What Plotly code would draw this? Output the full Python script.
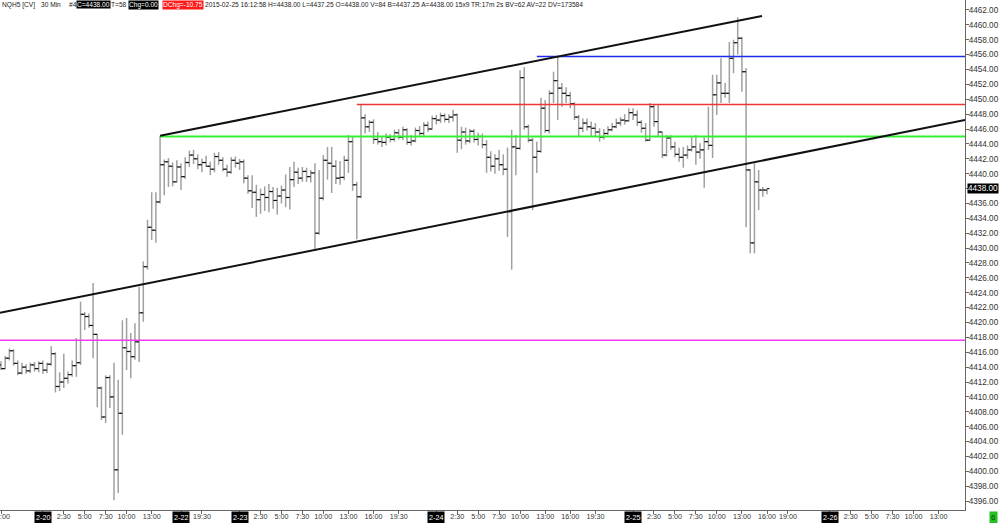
import plotly.graph_objects as go

# ---------------- data (30 min bars, NQH5) ----------------
opens = [4414.3, 4413.8, 4415.2, 4416.2, 4414.5, 4413.2, 4414.0, 4413.5, 4414.3, 4413.8,
         4414.5, 4413.6, 4414.4, 4415.8, 4411.4, 4412.0, 4412.5, 4413.0, 4414.2, 4414.6,
         4421.1, 4420.8, 4419.6, 4418.4, 4411.2, 4407.3, 4412.6, 4410.0, 4400.2, 4407.8,
         4416.6, 4416.1, 4415.4, 4417.4, 4421.3, 4427.5, 4432.8, 4432.4, 4436.2, 4441.2,
         4441.6, 4441.0, 4438.9, 4440.9, 4439.6, 4441.5, 4442.5, 4442.0, 4441.2, 4441.5,
         4441.0, 4440.6, 4442.3, 4441.8, 4440.6, 4440.2, 4441.8, 4441.4, 4441.6, 4439.4,
         4437.7, 4437.5, 4436.5, 4437.2, 4436.8, 4437.6, 4436.4, 4437.0, 4437.8, 4436.8,
         4439.2, 4440.2, 4439.4, 4440.3, 4439.6, 4440.1, 4432.0, 4436.7, 4441.8, 4441.4,
         4441.0, 4439.4, 4439.5, 4441.8, 4444.3, 4438.5, 4436.9, 4447.5, 4446.3, 4446.9,
         4444.6, 4444.3, 4444.2, 4444.9, 4444.6, 4445.5, 4444.9, 4445.9, 4444.2, 4444.4,
         4445.8, 4445.4, 4446.5, 4446.0, 4447.4, 4447.2, 4447.8, 4447.3, 4447.6, 4447.9,
         4444.5, 4445.6, 4444.4, 4445.7, 4444.6, 4445.0, 4443.9, 4442.2, 4441.0, 4442.0,
         4441.2, 4440.6, 4434.9, 4443.6, 4443.4, 4452.9, 4446.3, 4444.5, 4442.2, 4443.0,
         4448.8, 4445.8, 4450.8, 4452.5, 4451.5, 4450.8, 4450.5, 4449.4, 4447.6, 4446.1,
         4446.8, 4446.3, 4446.1, 4445.6, 4444.9, 4445.4, 4445.9, 4446.3, 4446.8, 4447.2,
         4447.1, 4448.2, 4447.9, 4446.9, 4446.1, 4444.5, 4449.0, 4447.0, 4445.6, 4442.5,
         4444.8, 4443.6, 4442.6, 4442.2, 4442.5, 4443.2, 4443.6, 4442.9, 4443.2, 4444.3,
         4443.8, 4450.6, 4452.2, 4450.8, 4450.8, 4455.5, 4457.6, 4458.2, 4453.7, 4440.5,
         4430.7, 4438.9, 4437.8, 4437.8]
highs = [4414.8, 4415.5, 4416.5, 4416.4, 4414.9, 4414.6, 4414.4, 4414.6, 4414.7, 4414.8,
         4414.9, 4414.6, 4416.8, 4416.0, 4413.3, 4415.8, 4413.4, 4414.9, 4417.9, 4422.8,
         4421.4, 4421.2, 4425.3, 4418.5, 4411.4, 4412.9, 4412.9, 4414.6, 4412.3, 4420.3,
         4420.6, 4418.6, 4419.9, 4424.8, 4428.2, 4433.8, 4437.5, 4437.5, 4445.1, 4441.9,
         4442.1, 4441.5, 4441.8, 4441.4, 4442.2, 4443.1, 4443.2, 4442.6, 4442.0, 4442.4,
         4441.6, 4442.8, 4442.9, 4442.2, 4441.2, 4442.2, 4442.3, 4442.0, 4441.9, 4439.8,
         4439.8, 4438.5, 4438.0, 4438.3, 4438.6, 4438.2, 4438.1, 4438.4, 4439.9, 4440.9,
         4441.6, 4440.8, 4440.9, 4440.8, 4440.5, 4441.4, 4440.5, 4442.5, 4443.6, 4443.6,
         4441.8, 4441.7, 4442.4, 4445.2, 4444.9, 4438.9, 4449.3, 4448.0, 4447.2, 4447.3,
         4445.6, 4445.0, 4445.4, 4445.3, 4445.9, 4446.0, 4446.3, 4446.1, 4445.2, 4446.2,
         4446.4, 4446.9, 4447.0, 4447.8, 4447.9, 4448.2, 4448.1, 4448.0, 4448.6, 4448.1,
         4446.3, 4446.2, 4446.0, 4446.0, 4445.5, 4445.4, 4444.5, 4443.0, 4442.6, 4443.2,
         4442.6, 4443.5, 4445.9, 4445.2, 4453.9, 4454.3, 4446.6, 4444.8, 4444.3, 4450.2,
         4449.9, 4451.2, 4453.7, 4455.8, 4452.2, 4451.6, 4451.0, 4449.6, 4447.9, 4447.4,
         4447.4, 4447.0, 4446.8, 4446.1, 4446.0, 4446.4, 4446.8, 4447.4, 4447.6, 4448.0,
         4448.8, 4448.8, 4448.5, 4447.2, 4446.8, 4449.5, 4449.3, 4449.3, 4445.6, 4445.2,
         4445.2, 4444.3, 4443.5, 4443.6, 4443.8, 4444.9, 4445.2, 4444.1, 4444.9, 4449.0,
         4453.3, 4453.3, 4455.5, 4452.2, 4457.7, 4458.0, 4461.0, 4458.4, 4454.2, 4440.6,
         4441.4, 4440.5, 4438.2, 4438.0]
lows = [4413.6, 4413.7, 4414.9, 4414.2, 4412.9, 4413.0, 4413.1, 4413.2, 4413.4, 4413.3,
        4413.1, 4413.2, 4414.2, 4410.6, 4410.8, 4411.2, 4411.8, 4412.7, 4412.7, 4414.3,
        4419.0, 4419.3, 4415.2, 4408.6, 4406.9, 4406.5, 4408.5, 4396.1, 4397.1, 4404.9,
        4413.6, 4412.5, 4415.0, 4414.7, 4420.1, 4427.1, 4431.1, 4430.7, 4436.0, 4437.1,
        4438.2, 4438.3, 4438.8, 4437.8, 4439.3, 4440.9, 4441.3, 4440.6, 4440.2, 4440.9,
        4439.8, 4440.2, 4441.2, 4440.3, 4439.6, 4440.0, 4440.8, 4440.5, 4438.7, 4437.3,
        4435.4, 4434.2, 4434.6, 4435.0, 4434.8, 4435.3, 4434.5, 4436.0, 4435.5, 4435.2,
        4438.2, 4438.6, 4438.9, 4438.9, 4438.8, 4429.7, 4431.8, 4436.4, 4439.2, 4437.4,
        4438.6, 4438.5, 4439.1, 4440.1, 4437.7, 4431.2, 4436.7, 4445.4, 4445.6, 4444.0,
        4443.9, 4443.6, 4443.8, 4444.2, 4444.3, 4444.6, 4444.5, 4443.9, 4443.8, 4444.2,
        4445.0, 4445.1, 4445.6, 4445.9, 4446.6, 4446.8, 4446.9, 4446.8, 4447.0, 4442.8,
        4443.3, 4443.9, 4444.1, 4444.2, 4443.8, 4443.4, 4440.1, 4440.3, 4440.0, 4440.4,
        4439.8, 4431.5, 4427.1, 4439.8, 4443.2, 4445.9, 4444.2, 4435.1, 4440.1, 4442.8,
        4445.5, 4445.4, 4449.5, 4447.2, 4449.0, 4449.5, 4448.8, 4447.2, 4444.9, 4445.6,
        4445.8, 4445.0, 4444.9, 4444.3, 4444.6, 4445.2, 4445.7, 4446.1, 4446.4, 4446.6,
        4447.0, 4447.2, 4446.4, 4445.5, 4444.3, 4444.4, 4446.3, 4445.0, 4442.1, 4442.3,
        4443.2, 4442.2, 4441.6, 4440.8, 4442.0, 4443.0, 4441.2, 4442.0, 4438.1, 4443.2,
        4442.1, 4447.9, 4449.5, 4450.2, 4449.5, 4453.5, 4456.0, 4451.0, 4432.8, 4429.3,
        4429.3, 4435.1, 4436.9, 4437.25]
closes = [4413.8, 4415.2, 4416.2, 4414.5, 4413.2, 4414.0, 4413.5, 4414.3, 4413.8, 4414.5,
          4413.6, 4414.4, 4415.8, 4411.4, 4412.0, 4412.5, 4413.0, 4414.2, 4414.6, 4421.1,
          4420.8, 4419.6, 4418.4, 4411.2, 4407.3, 4412.6, 4410.0, 4400.2, 4407.8, 4416.6,
          4416.1, 4415.4, 4417.4, 4421.3, 4427.5, 4432.8, 4432.4, 4436.2, 4441.2, 4441.6,
          4441.0, 4438.9, 4440.9, 4439.6, 4441.5, 4442.5, 4442.0, 4441.2, 4441.5, 4441.0,
          4440.6, 4442.3, 4441.8, 4440.6, 4440.2, 4441.8, 4441.4, 4441.6, 4439.4, 4437.7,
          4437.5, 4436.5, 4437.2, 4436.8, 4437.6, 4436.4, 4437.0, 4437.8, 4436.8, 4439.2,
          4440.2, 4439.4, 4440.3, 4439.6, 4440.1, 4432.0, 4436.7, 4441.8, 4441.4, 4441.0,
          4439.4, 4439.5, 4441.8, 4444.3, 4438.5, 4436.9, 4447.5, 4446.3, 4446.9, 4444.6,
          4444.3, 4444.2, 4444.9, 4444.6, 4445.5, 4444.9, 4445.9, 4444.2, 4444.4, 4445.8,
          4445.4, 4446.5, 4446.0, 4447.4, 4447.2, 4447.8, 4447.3, 4447.6, 4447.9, 4444.5,
          4445.6, 4444.4, 4445.7, 4444.6, 4445.0, 4443.9, 4442.2, 4441.0, 4442.0, 4441.2,
          4440.6, 4434.9, 4443.6, 4443.4, 4452.9, 4446.3, 4444.5, 4442.2, 4443.0, 4448.8,
          4445.8, 4450.8, 4452.5, 4451.5, 4450.8, 4450.5, 4449.4, 4447.6, 4446.1, 4446.8,
          4446.3, 4446.1, 4445.6, 4444.9, 4445.4, 4445.9, 4446.3, 4446.8, 4447.2, 4447.1,
          4448.2, 4447.9, 4446.9, 4446.1, 4444.5, 4449.0, 4447.0, 4445.6, 4442.5, 4444.8,
          4443.6, 4442.6, 4442.2, 4442.5, 4443.2, 4443.6, 4442.9, 4443.2, 4444.3, 4443.8,
          4450.6, 4452.2, 4450.8, 4450.8, 4455.5, 4457.6, 4458.2, 4453.7, 4440.5, 4430.7,
          4438.9, 4437.8, 4437.8, 4438.0]

# time-axis labels (bar index of each label)
time_tick_pos = [0, 15, 20, 25, 30, 36, 48, 62, 67, 72, 77, 83, 89, 95,
                 109, 114, 119, 124, 130, 136, 142, 156, 161, 166, 171, 177, 183, 188,
                 203, 208, 213, 218, 224]
time_tick_text = ["19:00", "2:30", "5:00", "7:30", "10:00", "13:00", "19:30",
                  "2:30", "5:00", "7:30", "10:00", "13:00", "16:00", "19:30",
                  "2:30", "5:00", "7:30", "10:00", "13:00", "16:00", "19:30",
                  "2:30", "5:00", "7:30", "10:00", "13:00", "16:00", "19:00",
                  "2:30", "5:00", "7:30", "10:00", "13:00"]
date_pos = [10, 43, 57, 104, 151, 198]
date_text = ["2-20", "2-22", "2-23", "2-24", "2-25", "2-26"]

# drawn horizontal levels: price, starting bar index, colour, width
level_prices = [4455.75, 4449.3, 4445.0, 4417.6]
level_start = [128, 85, 38, -0.24]
level_colors = ["#1f2cf0", "#f03535", "#33f033", "#f03cf0"]
level_widths = [1.5, 1.5, 2, 1.5]

# channel trend lines: bar index / price of both ends
upper_channel_x = [38, 181.8]
upper_channel_y = [4445.1, 4461.2]
lower_channel_x = [-0.24, 230.3]
lower_channel_y = [4421.3, 4447.2]

last_price = 4438.0

# ---------------- figure ----------------
n = len(opens)
idx = list(range(n))
x_min, x_max = -0.24, 230.3

fig = go.Figure()
fig.add_trace(go.Ohlc(
    x=idx, open=opens, high=highs, low=lows, close=closes,
    increasing=dict(line=dict(color="#a0a0a0", width=1.5)),
    decreasing=dict(line=dict(color="#a0a0a0", width=1.5)),
    tickwidth=0.0, hoverinfo="skip", showlegend=False))
fig.add_trace(go.Scatter(
    x=[i - 0.3 for i in idx], y=opens, mode="markers",
    marker=dict(symbol="line-ew", size=1.6, line=dict(color="#111", width=1.2)),
    hoverinfo="skip", showlegend=False))
fig.add_trace(go.Scatter(
    x=[i + 0.3 for i in idx], y=closes, mode="markers",
    marker=dict(symbol="line-ew", size=1.6, line=dict(color="#111", width=1.2)),
    hoverinfo="skip", showlegend=False))

for p, s, c, w in zip(level_prices, level_start, level_colors, level_widths):
    fig.add_trace(go.Scatter(x=[s, x_max], y=[p, p], mode="lines",
                             line=dict(color=c, width=w), hoverinfo="skip", showlegend=False))

for xs, ys in [(upper_channel_x, upper_channel_y), (lower_channel_x, lower_channel_y)]:
    fig.add_trace(go.Scatter(x=xs, y=ys, mode="lines", line=dict(color="#111", width=2),
                             hoverinfo="skip", showlegend=False))

tick_vals = time_tick_pos + date_pos
tick_text = time_tick_text + [""] * len(date_pos)

fig.update_layout(
    width=1000, height=523,
    margin=dict(l=0, r=35, t=0, b=13),
    paper_bgcolor="white", plot_bgcolor="white",
    showlegend=False,
    font=dict(family="Liberation Sans, Arial, sans-serif", size=8, color="#333"),
    xaxis=dict(range=[x_min, x_max], tickvals=tick_vals, ticktext=tick_text,
               automargin=False, ticklabeloverflow="allow",
               showgrid=False, zeroline=False, showline=True, linecolor="#666", linewidth=1,
               ticks="outside", ticklen=3, tickcolor="#666", tickangle=0,
               ticklabelstandoff=-4,
               rangeslider=dict(visible=False), tickfont=dict(size=7.2, color="#333")),
    yaxis=dict(range=[4394.8, 4463.34], side="right", dtick=2, tick0=4396, tickformat=".2f",
               automargin=False,
               showgrid=False, zeroline=False, showline=True, linecolor="#666", linewidth=1,
               ticks="outside", ticklen=3, tickcolor="#666", ticklabelstandoff=-2,
               tickfont=dict(size=8.2, color="#333")),
)

ann = []
for p, t in zip(date_pos, date_text):
    ann.append(dict(x=p, y=0, xref="x", yref="paper", text=t, showarrow=False,
                    xanchor="center", yanchor="top", yshift=-1,
                    bgcolor="black", font=dict(color="white", size=7.2), borderpad=1))

# last price marker on the price scale
ann.append(dict(x=1, y=last_price, xref="paper", yref="y", text=f"{last_price:.2f}",
                showarrow=False, xanchor="left", xshift=2, bgcolor="black",
                font=dict(color="white", size=8.2), borderpad=0))

# header line
W = 965.0
header = [
    ("NQH5 [CV]", 1, None), ("30 Min", 40, None), ("#4", 68, None),
    ("C=4438.00", 76, "black"), ("T=58", 110, None), ("Chg=0.00", 128, "black"),
    ("DChg=-10.75", 162, "#ff1a1a"),
    ("2015-02-25 16:12:58 H=4438.00 L=4437.25 O=4438.00 V=84 B=4437.25 A=4438.00 "
     "15x9 TR:17m 2s BV=62 AV=22 DV=173584", 204, None),
]
for t, px, bg in header:
    d = dict(x=px / W, y=1, xref="paper", yref="paper", text=t, showarrow=False,
             xanchor="left", yanchor="top", yshift=0, borderpad=0,
             font=dict(size=6.6, color="white" if bg else "#222"))
    if bg:
        d["bgcolor"] = bg
    ann.append(d)

# green status box bottom right
ann.append(dict(x=993 / W, y=0, xref="paper", yref="paper", text="6", showarrow=False,
                xanchor="center", yanchor="top", yshift=-1, bgcolor="#22c022",
                font=dict(size=8, color="#114411"), borderpad=1))

fig.update_layout(annotations=ann)
fig.write_html("out.html", config={"displayModeBar": False},
               post_script="document.body.style.margin='0px';")
